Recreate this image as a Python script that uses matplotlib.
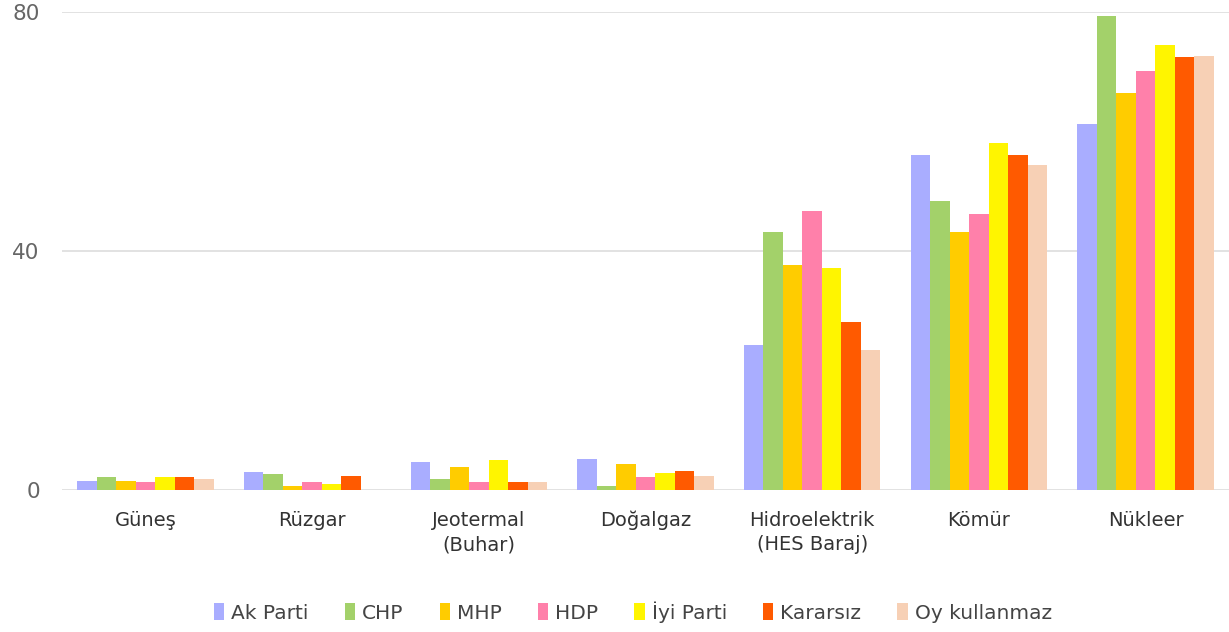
import numpy as np
import matplotlib.pyplot as plt

plt.rcParams['font.family'] = ['DejaVu Sans']

categories = ['Güneş', 'Rüzgar', 'Jeotermal\n(Buhar)', 'Doğalgaz',
              'Hidroelektrik\n(HES Baraj)', 'Kömür', 'Nükleer']
parties = ['Ak Parti', 'CHP', 'MHP', 'HDP', 'İyi Parti', 'Kararsız', 'Oy kullanmaz']
colors = ['#a9adff', '#a3d16a', '#ffcc00', '#ff80aa', '#fff500', '#ff5a00', '#f7d0b5']

ak_parti = [1.5, 3.0, 4.7, 5.2, 24.2, 56.1, 61.2]
chp = [2.1, 2.7, 1.8, 0.7, 43.1, 48.3, 79.3]
mhp = [1.5, 0.7, 3.8, 4.4, 37.7, 43.1, 66.4]
hdp = [1.3, 1.3, 1.3, 2.1, 46.7, 46.2, 70.2]
iyi = [2.1, 1.0, 5.0, 2.9, 37.2, 58.1, 74.5]
kararsiz = [2.1, 2.4, 1.3, 3.2, 28.1, 56.1, 72.4]
oy_kullanmaz = [1.8, 0.0, 1.3, 2.4, 23.5, 54.4, 72.7]
series = [ak_parti, chp, mhp, hdp, iyi, kararsiz, oy_kullanmaz]

fig = plt.figure(figsize=(12.29, 6.32), dpi=100)
ax = fig.add_axes([62/1229, 1 - 490/632, 1 - 62/1229, (490 - 12)/632])

x = np.arange(len(categories))
w = 0.117
for i, (name, vals, c) in enumerate(zip(parties, series, colors)):
    ax.bar(x + (i - 3) * w, vals, w, color=c, label=name, zorder=3)

ax.set_xlim(-0.5, len(categories) - 0.5)
ax.set_ylim(0, 80)
ax.set_yticks([0, 40, 80])
ax.yaxis.grid(True, color='#dddddd', linewidth=1.2, zorder=0)
for s in ax.spines.values():
    s.set_visible(False)
ax.tick_params(axis='y', length=0, pad=16, labelsize=15.5, labelcolor='#666666')
ax.tick_params(axis='x', length=0, pad=15, labelsize=14, labelcolor='#333333')
ax.set_xticks(x)
ax.set_xticklabels(categories, linespacing=1.35)

fig.legend(loc='center', bbox_to_anchor=(0.515, 1 - 612/632), ncol=7, frameon=False,
           fontsize=14.5, handlelength=0.5, handleheight=0.9, handletextpad=0.35,
           columnspacing=1.8, labelcolor='#444444')

fig.savefig('out.png', dpi=100)
